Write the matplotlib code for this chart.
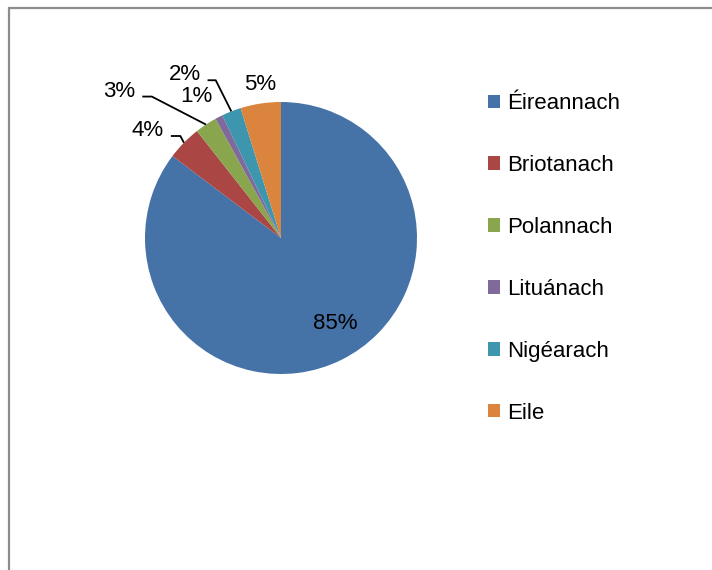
import numpy as np
import matplotlib
matplotlib.use("Agg")
import matplotlib.pyplot as plt
from matplotlib.patches import Rectangle, Patch

# ── data ────────────────────────────────────────────────────────────────────
labels = ["Éireannach", "Briotanach", "Polannach", "Lituánach", "Nigéarach", "Eile"]
values = [85.3, 4.1, 2.6, 0.9, 2.3, 4.8]
colors = ["#4572A7", "#AA4643", "#89A54E", "#80699B", "#3D96AE", "#DB843D"]

# label placement (data units, pie radius = 1)
label_pos = [(0.40, -0.63), (-0.98, 0.79), (-1.19, 1.08), (-0.62, 1.04), (-0.71, 1.20), (-0.15, 1.13)]
# leader line elbow (x where horizontal segment ends), None = no line
elbow_x = [None, -0.74, -0.95, None, -0.48, None]

plt.rcParams["font.family"] = ["Liberation Sans", "DejaVu Sans"]
FS = 16

fig = plt.figure(figsize=(7.12, 5.70), dpi=100)
fig.patch.set_facecolor("white")
W, H = 712, 570
cx, cy, r = 281, 238, 136
ax = fig.add_axes([(cx - r) / W, 1 - (cy + r) / H, 2 * r / W, 2 * r / H])

wedges, _ = ax.pie(values, colors=colors, startangle=90, counterclock=False,
                   radius=1, wedgeprops=dict(linewidth=0))
ax.set_xlim(-1, 1); ax.set_ylim(-1, 1); ax.set_aspect("auto"); ax.axis("off")

tot = sum(values)
for i, (w, v) in enumerate(zip(wedges, values)):
    txt = f"{v / tot * 100:.0f}%"
    mid = np.deg2rad((w.theta1 + w.theta2) / 2)
    lx, ly = label_pos[i]
    ax.text(lx, ly, txt, ha="center", va="center", fontsize=FS, clip_on=False)
    if elbow_x[i] is not None:
        rx, ry = np.cos(mid), np.sin(mid)
        sx = lx + 0.17
        ax.plot([sx, elbow_x[i], rx], [ly - 0.04, ly - 0.04, ry], color="black", lw=1.3,
                clip_on=False, solid_capstyle="butt")

handles = [Patch(facecolor=c, edgecolor="none") for c in colors]
fig.legend(handles, labels, loc="upper left", bbox_to_anchor=(477 / W, 1 - 82 / H),
           frameon=False, fontsize=FS, handlelength=0.55, handleheight=0.55,
           handletextpad=0.3, labelspacing=1.84, borderpad=0)

# chart-area border (runs off right and bottom edges)
fig.patches.append(Rectangle((8.5 / W, -0.1), 1.2, 1 - 7.5 / H + 0.1, transform=fig.transFigure,
                             fill=False, edgecolor="#8c8c8c", lw=1.6))

fig.savefig("out.png", dpi=100, facecolor="white")
